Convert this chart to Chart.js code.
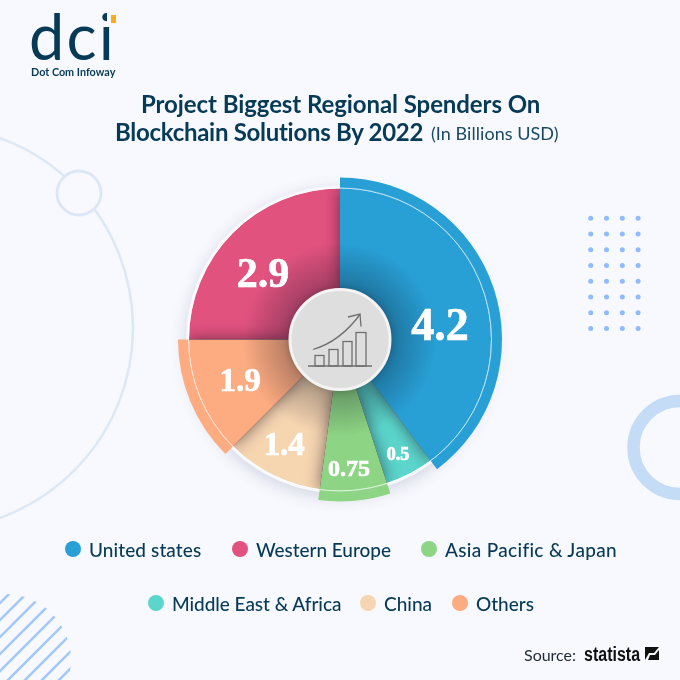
<!DOCTYPE html>
<html>
<head>
<meta charset="utf-8">
<script src="https://cdn.jsdelivr.net/npm/chart.js@4"></script>
<style>
html,body{margin:0;padding:0;background:#f8f9fe;}
#stage{position:relative;width:680px;height:680px;overflow:hidden;background:#f8f9fe;font-family:Lato,sans-serif;color:#063a57;}
#decor,#c{position:absolute;left:0;top:0;}
.t{position:absolute;white-space:nowrap;}
.dot{position:absolute;width:16px;height:16px;border-radius:50%;}
</style>
</head>
<body>
<div id="stage">
<svg id="decor" width="680" height="680">
  <defs><clipPath id="sc"><circle cx="5" cy="660" r="66"/></clipPath></defs>
  <circle cx="-69" cy="328" r="202" fill="none" stroke="#dde8f6" stroke-width="2.5"/>
  <circle cx="79" cy="193" r="22" fill="#f8f9fe" stroke="#dbe7f6" stroke-width="2.8"/>
  <circle cx="680" cy="447.5" r="46.5" fill="none" stroke="#c5dcf7" stroke-width="12.5"/>
  <g id="dots" fill="#8fbcfb"></g>
  <g id="stripes" clip-path="url(#sc)" stroke="#a3c8fa" stroke-width="2.6"></g>
</svg>
<canvas id="c" width="680" height="680"></canvas>
<div id="texts"></div>
</div>
<script>
// ---- data ----
const categories = ['United states','Middle East & Africa','Asia Pacific & Japan','China','Others','Western Europe'];
const spendValues = ['4.2','0.5','0.75','1.4','1.9','2.9'];
// the reference's slices are not proportional: sweep of each slice in degrees as drawn
const sliceSweeps = [143.2, 18.7, 25.8, 37.3, 45, 90];
const sliceColors = ['#28a0d6','#5cd6cc','#8dd484','#f6d5b1','#fdab81','#e1527f'];
// which slices stick out into the outer ring
const raisedSlices = [true,false,true,false,true,false];
const legendOrder = ['United states','Western Europe','Asia Pacific & Japan','Middle East & Africa','China','Others'];

// ---- styling ----
const labelStyle = [
  {dx:100,dy:-11,size:46},{dx:58,dy:116,size:18},{dx:9,dy:130,size:24},
  {dx:-56,dy:107,size:33},{dx:-100,dy:43,size:33},{dx:-77,dy:-63,size:42}];
const legendPos = [[73,549],[240,549],[429,549],[156,603],[368,603],[460,603]];
const legendTracking = [0.1,-0.05,0.32,-0.05,0,0];
const castShadows = [[0,5],[0,1],[2,3],[4,3],[2,1],[4,5]];

// decor
const NS='http://www.w3.org/2000/svg';
const dotsG=document.getElementById('dots');
for(let r=0;r<8;r++)for(let q=0;q<4;q++){const c=document.createElementNS(NS,'circle');
  c.setAttribute('cx',590.7+q*15.8);c.setAttribute('cy',218.3+r*15.75);c.setAttribute('r',2.5);dotsG.appendChild(c);}
const st=document.getElementById('stripes');
for(let k=-4;k<12;k++){const l=document.createElementNS(NS,'line');const o=600+k*17;
  l.setAttribute('x1',-20);l.setAttribute('y1',o+20+20);l.setAttribute('x2',120);l.setAttribute('y2',o+20-120);st.appendChild(l);}

// texts
const tx=document.getElementById('texts');
function T(s,l,cy,css,extra){const d=document.createElement('div');d.className='t';d.textContent=s;
  d.style.cssText=`left:${l}px;top:${cy}px;transform:translateY(-50%) ${extra||''};transform-origin:left center;`+css;tx.appendChild(d);return d;}
T('dci',29,35,'font:400 63px Lato;letter-spacing:2.2px;color:#063a57;line-height:1;');
const cover=document.createElement('div');cover.style.cssText='position:absolute;left:107px;top:12px;width:12px;height:14px;background:#f8f9fe;';
const ob=document.createElement('div');ob.style.cssText='position:absolute;left:111px;top:15px;width:5px;height:8px;background:#f9ab1c;';
tx.appendChild(cover);tx.appendChild(ob);
T('Dot Com Infoway',31,71,'font:700 10.8px Lato;color:#063a57;');
T('Project Biggest Regional Spenders On',141,103,'font:700 24px Lato;letter-spacing:-0.08px;color:#063a57;');
T('Blockchain Solutions By 2022',115,131,'font:700 24px Lato;letter-spacing:-0.29px;color:#063a57;');
T('(In Billions USD)',431,133,'font:400 18px Lato;letter-spacing:.05px;color:#1b4a64;');
legendOrder.forEach((n,i)=>{const [x,y]=legendPos[i];const idx=categories.indexOf(n);
  const d=document.createElement('div');d.className='dot';d.style.cssText=`left:${x-8}px;top:${y-8}px;background:${sliceColors[idx]}`;tx.appendChild(d);
  T(n,x+16,y,`font:500 19px Lato;letter-spacing:${legendTracking[i]}px;color:#063a57;`);});
T('Source:',524,654,'font:400 16px Lato;color:#1d2a33;');
T('statista',584,654,'font:700 20px "Liberation Sans";color:#111;','scaleX(.8)');
tx.insertAdjacentHTML('beforeend','<svg style="position:absolute;left:645px;top:647px" width="14" height="13"><rect width="14" height="13" fill="#111"/><path d="M0 13 L4 6 H9 L14 0 V3 L10 8 H5 L3 13Z" fill="#f8f9fe"/></svg>');

// ---- chart ----
function slicePath(ctx,a,rIn,rOut){ctx.beginPath();ctx.arc(a.x,a.y,rOut,a.startAngle,a.endAngle);ctx.arc(a.x,a.y,rIn,a.endAngle,a.startAngle,true);ctx.closePath();}

const pieFx={
  id:'pieFx',
  beforeDatasetsDraw(chart){
    const ctx=chart.ctx,a=chart.getDatasetMeta(1).data[0];
    ctx.save();ctx.shadowColor='rgba(60,70,110,.20)';ctx.shadowBlur=16;ctx.shadowOffsetY=4;
    ctx.fillStyle='#f8f9fe';ctx.beginPath();ctx.arc(a.x,a.y,a.outerRadius+3,0,Math.PI*2);ctx.fill();ctx.restore();
  },
  afterDatasetsDraw(chart){
    const ctx=chart.ctx,meta=chart.getDatasetMeta(1).data,a=meta[0];
    const cx=a.x,cy=a.y,rIn=a.innerRadius,rOut=a.outerRadius;
    // slices cast shadows on their neighbours
    castShadows.forEach(([from,to])=>{
      const f=meta[from],r=meta[to];
      ctx.save();slicePath(ctx,r,rIn,rOut);ctx.clip();
      ctx.shadowColor='rgba(20,10,30,.55)';ctx.shadowBlur=16;ctx.fillStyle='#000';
      slicePath(ctx,f,rIn,rOut);ctx.fill();ctx.restore();
    });
    // darkening around the hub
    ctx.save();ctx.beginPath();ctx.arc(cx,cy,rOut,0,Math.PI*2);ctx.arc(cx,cy,rIn,0,Math.PI*2,true);ctx.clip();
    const g=ctx.createRadialGradient(cx,cy,rIn,cx,cy,rIn+46);
    g.addColorStop(0,'rgba(10,15,30,.30)');g.addColorStop(1,'rgba(10,15,30,0)');
    ctx.fillStyle=g;ctx.fillRect(cx-rOut,cy-rOut,rOut*2,rOut*2);ctx.restore();
    // thin white ring
    ctx.save();ctx.strokeStyle='rgba(255,255,255,.7)';ctx.lineWidth=1;ctx.beginPath();ctx.arc(cx,cy,rOut+.5,0,Math.PI*2);ctx.stroke();ctx.restore();
    // hub
    ctx.save();ctx.shadowColor='rgba(0,0,0,.3)';ctx.shadowBlur=8;ctx.fillStyle='#dedede';ctx.strokeStyle='#f3f3f3';ctx.lineWidth=3;
    ctx.beginPath();ctx.arc(cx,cy,rIn-1,0,Math.PI*2);ctx.fill();ctx.shadowColor='transparent';ctx.stroke();ctx.restore();
    // hub icon
    ctx.save();ctx.translate(cx,cy);ctx.strokeStyle='#6f6f6f';ctx.lineWidth=1.3;ctx.lineJoin='miter';
    ctx.beginPath();ctx.moveTo(-32,26.5);ctx.lineTo(32,26.5);ctx.stroke();
    [[-25,16,9],[-11,10,9],[3,2,9],[16,-7,10]].forEach(([x,t,w])=>{ctx.strokeRect(x,t,w,26.5-t);});
    ctx.beginPath();ctx.moveTo(-27,10);ctx.quadraticCurveTo(0,2,20,-25);ctx.stroke();
    ctx.beginPath();ctx.moveTo(8,-22.5);ctx.lineTo(20,-25.5);ctx.lineTo(21,-13);ctx.stroke();
    ctx.restore();
    // value labels
    ctx.save();ctx.fillStyle='#fff';ctx.strokeStyle='#fff';ctx.lineWidth=.7;ctx.textAlign='center';ctx.textBaseline='middle';
    spendValues.forEach((v,i)=>{const s=labelStyle[i];ctx.font=`700 ${s.size}px "Liberation Serif"`;ctx.fillText(v,cx+s.dx,cy+s.dy);ctx.strokeText(v,cx+s.dx,cy+s.dy);});
    ctx.restore();
  }
};

new Chart(document.getElementById('c'),{
  type:'doughnut',
  data:{labels:categories,datasets:[
    {data:sliceSweeps,weight:11,borderWidth:0,backgroundColor:sliceColors.map((c,i)=>raisedSlices[i]?c:'transparent')},
    {data:sliceSweeps,weight:100,borderWidth:0,backgroundColor:sliceColors}
  ]},
  options:{responsive:false,animation:false,devicePixelRatio:1,cutout:51,
    layout:{padding:{top:177.5,bottom:178.5,left:0,right:0}},
    plugins:{legend:{display:false},tooltip:{enabled:false}},events:[]},
  plugins:[pieFx]
});
</script>
</body>
</html>
